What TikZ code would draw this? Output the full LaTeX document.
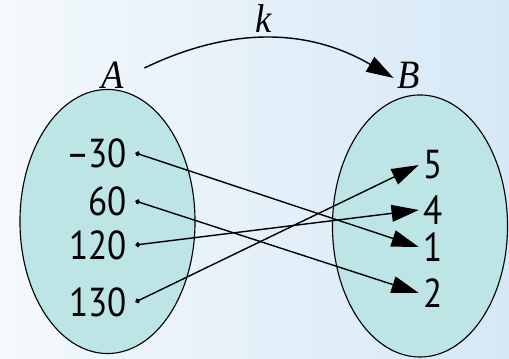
\documentclass[tikz,border=0pt]{standalone}
\usepackage{fontspec}
\setmainfont{Liberation Serif}
\newfontfamily\numfont{PT Sans}
\usepackage{tikz}
\usetikzlibrary{calc, positioning, arrows.meta, shapes.geometric}
\usepackage{xcolor}
\definecolor{setFill}{RGB}{189, 229, 230}
\definecolor{bgLeft}{RGB}{244, 249, 252}
\definecolor{bgRight}{RGB}{214, 232, 246}

\begin{document}
\begin{tikzpicture}[
  x=0.025cm, y=0.025cm,
  setel/.style={ellipse, draw, line width=0.8pt, fill=setFill,
    minimum width=4.375cm, minimum height=6.6cm, inner sep=0pt},
  elem/.style={font=\numfont\fontsize{25}{28}\selectfont, inner sep=0pt,
    yscale=1.15, transform shape},
  setname/.style={font=\fontsize{26}{28}\selectfont\itshape, inner sep=0pt,
    yscale=1.1, transform shape},
  maps/.style={line width=1pt, {Circle[length=3.5pt]}-{Triangle[length=0.68cm, width=0.42cm]}}
]
  % --- Background ---
  \shade[left color=bgLeft, right color=bgRight] (0,0) rectangle (509,359);
  \useasboundingbox (0,0) rectangle (509,359);

  % --- Sets A and B ---
  \node[setel] (SA) at (107.5,137.5) {};
  \node[setel, minimum height=6.55cm] (SB) at (420,133) {};
  \node[setname] (A) at (113,284) {A};
  \node[setname] (B) at (409,284) {B};

  % --- Elements of A ---
  \node[elem, anchor=east] (a1) at (127,206) {–\kern-1pt30};
  \node[elem, anchor=east] (a2) at (127,158) {60};
  \node[elem, anchor=east] (a3) at (127,114) {120};
  \node[elem, anchor=east] (a4) at (127,57)  {130};

  % --- Elements of B ---
  \node[elem, anchor=west] (b5) at (423,194) {5};
  \node[elem, anchor=west] (b4) at (423,149) {4};
  \node[elem, anchor=west] (b1) at (423,112) {1};
  \node[elem, anchor=west] (b2) at (423,66)  {2};

  % --- Mapping k ---
  \draw[maps] ([xshift=6]a1.east) -- ([xshift=-3]b1.west);
  \draw[maps] ([xshift=6]a2.east) -- ([xshift=-3]b2.west);
  \draw[maps] ([xshift=6]a3.east) -- ([xshift=-3]b4.west);
  \draw[maps] ([xshift=6]a4.east) -- ([xshift=-3]b5.west);

  % --- Arc from A to B ---
  \draw[line width=1pt, -{Triangle[length=0.68cm, width=0.42cm]}]
    ($(A.east)+(20,7)$) to[bend left=28] node[setname, above=4pt, xshift=-5] (k) {k} ($(B.west)+(-4,-3)$);
\end{tikzpicture}
\end{document}
